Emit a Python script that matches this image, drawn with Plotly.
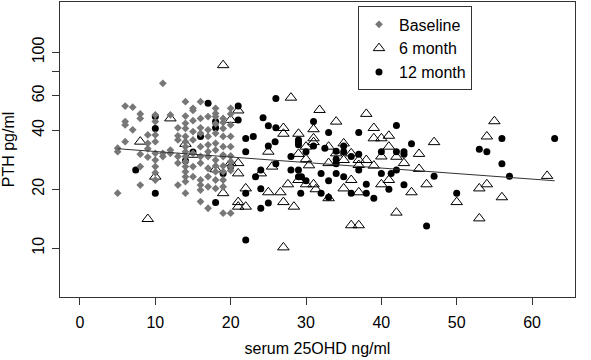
import plotly.graph_objects as go

# ---- data ----
base_x = [5, 5, 5,
          6, 6, 6, 6,
          7, 7,
          8, 8, 8, 8, 8,
          9, 9, 9, 9,
          10, 10, 10, 10, 10, 10, 10, 10, 10,
          11, 11, 11,
          12, 12, 12,
          13, 13, 13, 13, 13, 13,
          14, 14, 14, 14, 14, 14, 14, 14, 14, 14, 14, 14, 14, 14, 14,
          15, 15, 15, 15, 15, 15, 15, 15,
          16, 16, 16, 16, 16, 16, 16, 16, 16, 16, 16,
          17, 17, 17, 17, 17, 17, 17, 17, 17, 17,
          18, 18, 18, 18, 18, 18, 18, 18, 18, 18, 18, 18,
          19, 19, 19, 19, 19, 19, 19, 19, 19, 19, 19, 19,
          20, 20, 20, 20, 20, 20, 20, 20, 20, 20]
base_y = [32.4, 31.1, 19.1,
          53.2, 44.3, 42.6, 35.0,
          52.5, 40.2,
          48.5, 46.0, 30.2, 26.1, 21.0,
          37.9, 34.3, 32.2, 29.2,
          47.9, 44.3, 37.9, 35.0, 30.5, 28.2, 26.1, 24.3, 22.3,
          69.5, 30.5, 29.4,
          47.9, 31.7, 30.5,
          41.2, 37.5, 35.7, 29.4, 27.2, 21.0,
          56.0, 47.3, 43.4, 40.9, 37.2, 35.0, 33.0, 31.1, 29.4, 27.7, 26.1, 24.6, 23.2, 21.9, 19.1,
          51.8, 50.5, 44.8, 39.4, 35.7, 30.5, 26.1, 23.2,
          56.0, 46.0, 41.2, 38.6, 33.0, 29.4, 27.2, 22.3, 21.0, 19.8, 17.3,
          47.0, 40.2, 37.2, 33.7, 31.1, 29.4, 25.6, 23.2, 20.6, 16.0,
          51.8, 48.8, 47.0, 43.2, 38.6, 34.3, 31.7, 28.2, 26.3, 24.6, 22.3, 20.2,
          46.0, 43.9, 40.9, 37.2, 33.0, 29.9, 29.4, 26.3, 24.6, 22.3, 20.6, 15.1,
          51.8, 48.5, 42.6, 37.2, 33.0, 29.6, 27.7, 26.1, 24.9, 15.1]

m6_x = [19, 8, 9, 10, 12, 14, 15, 18, 19, 20, 20, 21, 21, 21, 21, 21, 22, 22, 24, 25,
        25, 25.5, 26.6, 27, 27, 27, 27, 27.6, 28, 28.4, 29, 29, 29, 30, 30, 30, 30.4, 31, 31, 31,
        31, 31.3, 31.8, 33, 33, 33, 34, 34, 35, 35, 35, 36, 36, 36, 37, 37, 37, 37, 38, 38,
        39, 39, 39, 40, 40, 40, 41, 41, 41, 42, 42, 43, 44, 45, 45, 46, 47, 50, 53, 53,
        54, 54, 55, 56, 62]
m6_y = [86, 35.0, 14.1, 23.2, 46, 34.1, 30, 25.3, 19.1, 45.2, 27.2, 50.5, 27.2, 24.1, 17.2, 16.3, 20.2, 16.3, 24.1, 31.1,
        19.3, 26.1, 19.3, 41.1, 38.4, 17.2, 10.1, 21.2, 58.7, 16.3, 38.4, 30.3, 22.3, 33, 28.5, 21.2, 26.5, 40.5, 36.4, 34.8,
        21.2, 20, 50.8, 33, 27.2, 18, 44.3, 30.5, 34.3, 28.2, 20.2, 30.5, 22.3, 13.1, 28.2, 26.6, 19.3, 13.1, 48.5, 28.2,
        41.1, 36.4, 26.4, 36.4, 29.4, 21.2, 37.5, 33, 22.3, 29.3, 15.2, 27.2, 19.3, 30.3, 25.4, 21.2, 34.8, 17.2, 20.2, 14.2,
        37.2, 21.2, 44.5, 18.2, 23.4]

m12_x = [7.4, 10, 10, 10, 14, 15, 16, 17, 18, 18, 18, 19, 20, 21, 21, 22, 22, 22, 22, 23,
         23.3, 24, 24, 24, 24.3, 25, 25, 25, 25.9, 26, 26, 26, 28, 28, 29, 29, 29, 29, 29, 29.3,
         29.4, 30, 30, 31, 31, 32, 32, 32.5, 33, 33, 33, 34, 34, 34, 34, 35, 35, 35, 36, 36,
         37, 37, 37, 38, 38, 39, 40, 40, 41, 41.3, 42, 42, 42, 43, 43, 43, 44, 46, 47, 50,
         53, 54, 56, 56, 57, 63]
m12_y = [25.1, 47.0, 40.9, 19.1, 28.0, 31.0, 37.2, 54.9, 44.3, 41.2, 17.1, 24.1, 26.1, 53.2, 45.2, 36.3, 31.1, 19.1, 11.0, 37.2,
         23.2, 25.1, 20.1, 16.0, 46.4, 42.2, 33.3, 17.0, 35.0, 41.2, 58.2, 27.0, 29.4, 25.1, 35.7, 34.8, 33.7, 25.1, 23.2, 19.1,
         23.2, 31.1, 22.1, 44.3, 33.3, 24.1, 19.1, 32.4, 39.0, 22.1, 18.2, 31.3, 28.5, 27.0, 24.1, 33.3, 31.1, 23.2, 29.4, 19.1,
         39.0, 30.2, 25.1, 21.2, 19.1, 18.0, 24.1, 31.1, 20.0, 24.1, 42.3, 31.1, 25.1, 31.1, 30.2, 21.1, 34.1, 13.0, 23.3, 19.1,
         32.0, 31.1, 36.3, 27.0, 23.3, 36.3]

fit_x = [5, 63]
fit_y = [32.2, 22.1]

x_ticks = [0, 10, 20, 30, 40, 50, 60]
y_ticks = [10, 20, 40, 60, 80, 100]
y_tick_text = ["10", "20", "40", "60", "", "100"]

FONT = "Liberation Sans, Arial, Helvetica, sans-serif"

fig = go.Figure()
fig.add_trace(go.Scatter(
    x=m6_x, y=m6_y, mode="markers", name="6 month", legendrank=2,
    marker=dict(symbol="triangle-up-open", size=10, color="black", line=dict(width=1, color="black")),
))
fig.add_trace(go.Scatter(
    x=m12_x, y=m12_y, mode="markers", name="12 month", legendrank=3,
    marker=dict(symbol="circle", size=7, color="black"),
))
fig.add_trace(go.Scatter(
    x=base_x, y=base_y, mode="markers", name="Baseline", legendrank=1,
    marker=dict(symbol="diamond", size=6, color="#777777", line=dict(width=0)),
))
fig.add_trace(go.Scatter(
    x=fit_x, y=fit_y, mode="lines", showlegend=False, hoverinfo="skip",
    line=dict(color="#333333", width=1),
))

fig.update_layout(
    width=591, height=360,
    margin=dict(l=60, r=16, t=2, b=63),
    paper_bgcolor="white", plot_bgcolor="white",
    font=dict(family=FONT, size=16, color="black"),
    showlegend=True,
    legend=dict(
        x=0.80, y=0.985, xanchor="right", yanchor="top",
        bordercolor="#333333", borderwidth=1, bgcolor="white",
        font=dict(size=16), itemwidth=30, tracegroupgap=0,
    ),
    xaxis=dict(
        range=[-2.65, 65.7], tickvals=x_ticks, automargin=False,
        showline=True, linecolor="#333333", linewidth=1, mirror=True,
        ticks="outside", ticklen=7, tickcolor="#333333", ticklabelstandoff=4,
        showgrid=False, zeroline=False,
        title=dict(text="serum 25OHD ng/ml", standoff=12, font=dict(size=16)),
        tickfont=dict(size=16),
    ),
    yaxis=dict(
        type="log", range=[0.751, 2.257], automargin=False,
        tickvals=y_ticks, ticktext=y_tick_text, tickangle=-90,
        showline=True, linecolor="#333333", linewidth=1, mirror=True,
        ticks="outside", ticklen=7, tickcolor="#333333", ticklabelstandoff=2,
        showgrid=False, zeroline=False,
        title=dict(text="PTH pg/ml", standoff=12, font=dict(size=16)),
        tickfont=dict(size=16),
    ),
)

fig.write_html("out.html", config={"displayModeBar": False},
               post_script="document.body.style.margin='0';")
